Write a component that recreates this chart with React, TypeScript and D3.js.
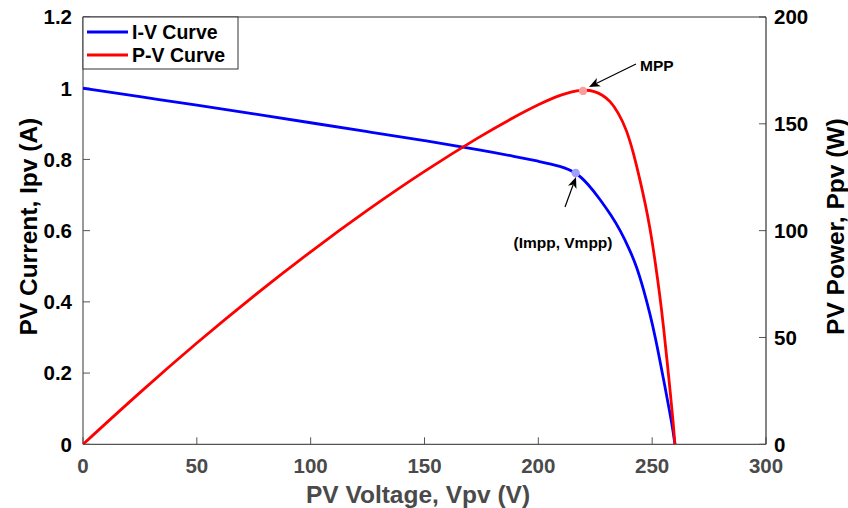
import React from "react";
import * as d3 from "d3";

const ivVoltage = [0, 25, 50, 75, 100, 125, 150, 175, 190, 200, 210, 216.4, 222, 227.1, 232, 235.9, 240, 243.2, 246, 249, 251.5, 253.4, 255.6, 257.8, 259, 260];
const ivCurrent = [1.0, 0.976, 0.953, 0.928, 0.903, 0.878, 0.853, 0.826, 0.808, 0.795, 0.781, 0.765, 0.73, 0.688, 0.643, 0.602, 0.548, 0.499, 0.44, 0.368, 0.297, 0.235, 0.163, 0.087, 0.045, 0];

const pvVoltage = [0, 25, 50, 75, 100, 125, 150, 175, 190, 200, 210, 219.6, 225, 228, 231.5, 235, 238.8, 242, 244.6, 247, 249, 251, 253.4, 255, 256.4, 258, 259.3, 260];
const pvPower = [0, 24.4, 47.6, 69.6, 90.3, 109.8, 128, 144.6, 153.5, 159, 163.8, 166.2, 165.2, 163.6, 160.8, 155.5, 147.3, 135.5, 124, 112.5, 101.5, 88, 69.5, 55, 40.5, 24, 9.5, 0];

const xTicks = [0, 50, 100, 150, 200, 250, 300];
const yLeftTicks = [0, 0.2, 0.4, 0.6, 0.8, 1, 1.2];
const yRightTicks = [0, 50, 100, 150, 200];
const mppCurrent = { v: 216.4, i: 0.762 };
const mppPower = { v: 219.6, p: 165.4 };

const FONT = "'Liberation Sans', Arial, Helvetica, sans-serif";

export default function App() {
  const L = 83, R = 766, T = 17, B = 444.3;
  const x = d3.scaleLinear().domain([0, 300]).range([L, R]);
  const yL = d3.scaleLinear().domain([0, 1.2]).range([B, T]);
  const yR = d3.scaleLinear().domain([0, 200]).range([B, T]);

  const ivData = ivVoltage.map((v, k) => [v, ivCurrent[k]] as [number, number]);
  const pvData = pvVoltage.map((v, k) => [v, pvPower[k]] as [number, number]);
  const ivLine = d3.line<[number, number]>().x(d => x(d[0])).y(d => yL(d[1])).curve(d3.curveBasis);
  const pvLine = d3.line<[number, number]>().x(d => x(d[0])).y(d => yR(d[1])).curve(d3.curveBasis);

  const fmtL = (t: number) => String(t);
  const axisColor = "#555";

  const arrow = (x1: number, y1: number, x2: number, y2: number) => {
    const ang = Math.atan2(y2 - y1, x2 - x1);
    const len = 11, w = 4.5;
    const bx = x2 - len * Math.cos(ang), by = y2 - len * Math.sin(ang);
    const px = -Math.sin(ang), py = Math.cos(ang);
    const back = 3;
    const mx = x2 - (len - back) * Math.cos(ang), my = y2 - (len - back) * Math.sin(ang);
    const head = `M${x2},${y2} L${bx + px * w},${by + py * w} L${mx},${my} L${bx - px * w},${by - py * w} Z`;
    return (
      <g>
        <line x1={x1} y1={y1} x2={mx} y2={my} stroke="#000" strokeWidth={1.2} />
        <path d={head} fill="#000" />
      </g>
    );
  };

  return (
    <div style={{ position: "fixed", left: 0, top: 0 }}>
      <svg width={848} height={508} style={{ display: "block", background: "#fff" }} fontFamily={FONT}>
        <defs>
          <clipPath id="plotclip">
            <rect x={L} y={T} width={R - L} height={B - T} />
          </clipPath>
        </defs>
        <rect x={0} y={0} width={848} height={508} fill="#fff" />

        {xTicks.map(t => (
          <g key={"x" + t}>
            <line x1={x(t)} x2={x(t)} y1={B} y2={B - 7} stroke={axisColor} strokeWidth={1} />
            <text x={x(t)} y={473} textAnchor="middle" fontSize={20.5} fontWeight="bold" fill="#4a4a4a">{t}</text>
          </g>
        ))}
        {yLeftTicks.map(t => (
          <g key={"yl" + t}>
            <line x1={L} x2={L + 7} y1={yL(t)} y2={yL(t)} stroke={axisColor} strokeWidth={1} />
            <text x={72} y={yL(t)} dy="0.36em" textAnchor="end" fontSize={20.5} fontWeight="bold" fill="#000">{fmtL(t)}</text>
          </g>
        ))}
        {yRightTicks.map(t => (
          <g key={"yr" + t}>
            <line x1={R} x2={R - 7} y1={yR(t)} y2={yR(t)} stroke={axisColor} strokeWidth={1} />
            <text x={774} y={yR(t)} dy="0.36em" textAnchor="start" fontSize={20.5} fontWeight="bold" fill="#000">{t}</text>
          </g>
        ))}

        <line x1={L} x2={R} y1={B} y2={B} stroke={axisColor} strokeWidth={1.2} />
        <line x1={L} x2={R} y1={T} y2={T} stroke="#333" strokeWidth={1} />
        <line x1={L} x2={L} y1={T} y2={B} stroke={axisColor} strokeWidth={1.2} />
        <line x1={R} x2={R} y1={T} y2={B} stroke="#333" strokeWidth={1.2} />

        <g clipPath="url(#plotclip)">
          <path d={ivLine(ivData) || ""} fill="none" stroke="#0000ff" strokeWidth={2.8} />
          <path d={pvLine(pvData) || ""} fill="none" stroke="#ff0000" strokeWidth={2.8} />
        </g>

        <circle cx={x(mppPower.v)} cy={yR(mppPower.p)} r={4.2} fill="#ff9c9c" />
        <circle cx={x(mppCurrent.v)} cy={yL(mppCurrent.i)} r={4.2} fill="#a0a0ff" />

        {arrow(636, 64, 589, 87)}
        <text x={640} y={71} fontSize={15.5} fontWeight="bold" fill="#000">MPP</text>
        {arrow(565, 207, 576, 177)}
        <text x={563} y={248} textAnchor="middle" fontSize={15.5} fontWeight="bold" fill="#000">(Impp, Vmpp)</text>

        <rect x={L} y={T} width={155} height={52} fill="#fff" stroke="#333" strokeWidth={1} />
        <line x1={87} x2={128} y1={32} y2={32} stroke="#0000ff" strokeWidth={2.8} />
        <text x={132} y={32} dy="0.36em" fontSize={19.5} fontWeight="bold" fill="#000">I-V Curve</text>
        <line x1={87} x2={128} y1={55} y2={55} stroke="#ff0000" strokeWidth={2.8} />
        <text x={132} y={55} dy="0.36em" fontSize={19.5} fontWeight="bold" fill="#000">P-V Curve</text>

        <text x={418} y={503} textAnchor="middle" fontSize={24.5} fontWeight="bold" fill="#4a4a4a">PV Voltage, Vpv (V)</text>
        <text transform={`translate(37, ${(T + B) / 2 - 4}) rotate(-90)`} textAnchor="middle" fontSize={24.5} fontWeight="bold" fill="#000">PV Current, Ipv (A)</text>
        <text transform={`translate(826, ${(T + B) / 2 - 4}) rotate(-90)`} textAnchor="middle" fontSize={24.5} fontWeight="bold" fill="#000" dy="0.72em">PV Power, Ppv (W)</text>
      </svg>
    </div>
  );
}
